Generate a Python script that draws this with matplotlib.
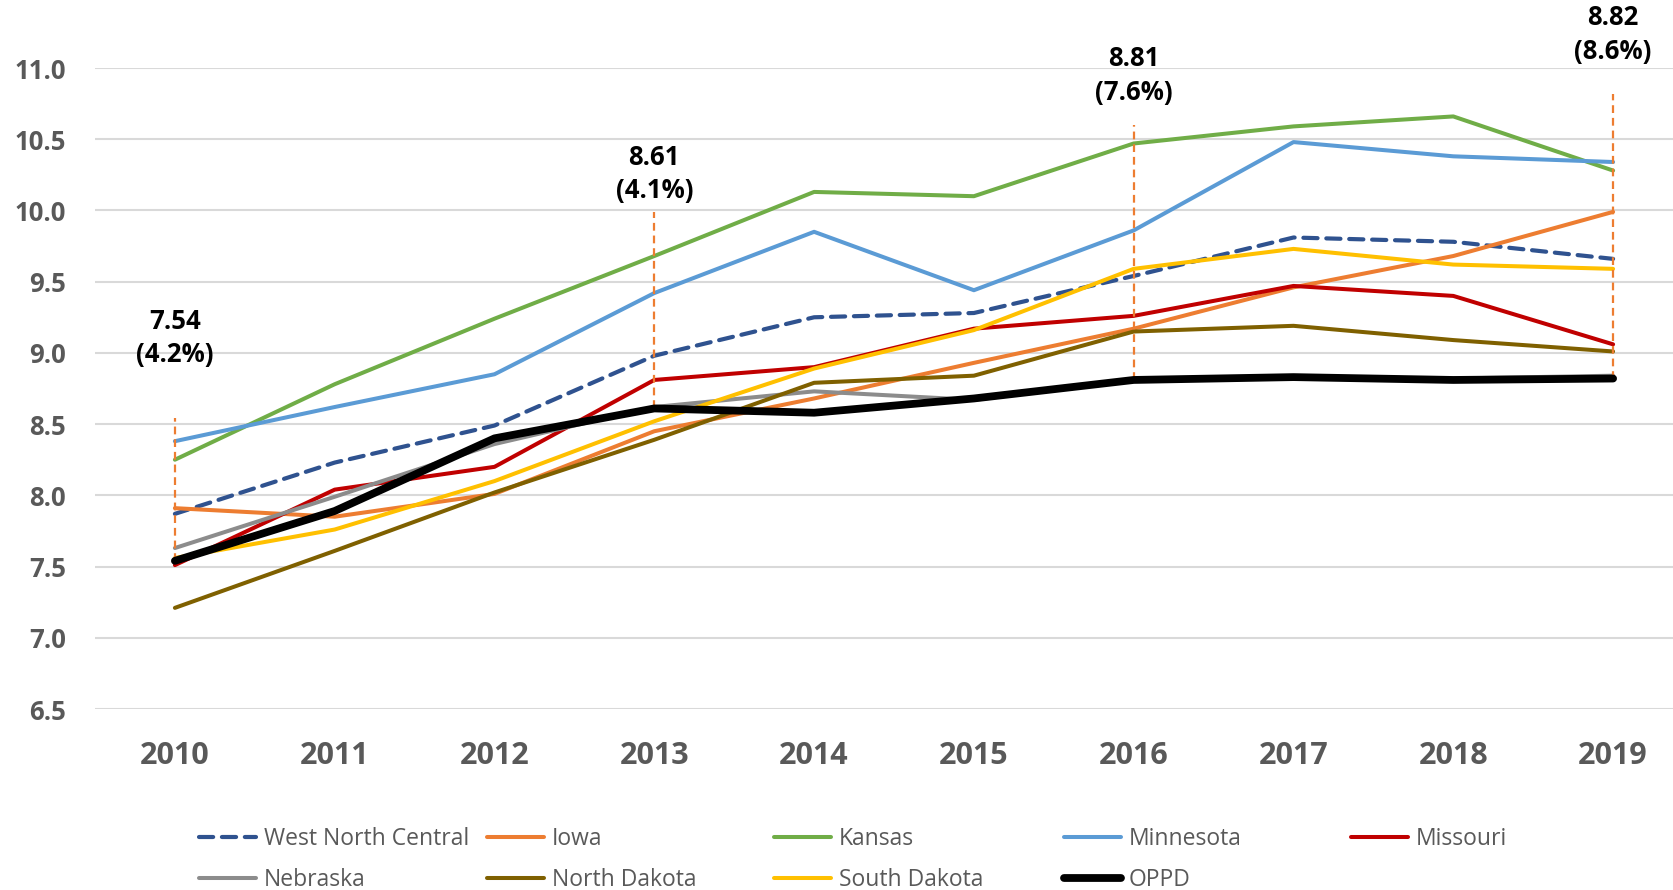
import matplotlib
matplotlib.use("Agg")
import matplotlib.pyplot as plt

plt.rcParams['font.family'] = ['Open Sans', 'DejaVu Sans']

years = [2010, 2011, 2012, 2013, 2014, 2015, 2016, 2017, 2018, 2019]
wnc = [7.87, 8.23, 8.49, 8.98, 9.25, 9.28, 9.54, 9.81, 9.78, 9.66]
iowa = [7.91, 7.85, 8.01, 8.45, 8.68, 8.93, 9.17, 9.46, 9.68, 9.99]
kansas = [8.25, 8.78, 9.24, 9.68, 10.13, 10.10, 10.47, 10.59, 10.66, 10.28]
minnesota = [8.38, 8.62, 8.85, 9.42, 9.85, 9.44, 9.86, 10.48, 10.38, 10.34]
missouri = [7.51, 8.04, 8.20, 8.81, 8.90, 9.17, 9.26, 9.47, 9.40, 9.06]
nebraska = [7.63, 7.99, 8.36, 8.62, 8.73, 8.67, 8.81, 8.83, 8.82, 8.84]
north_dakota = [7.21, 7.61, 8.02, 8.39, 8.79, 8.84, 9.15, 9.19, 9.09, 9.01]
south_dakota = [7.56, 7.76, 8.10, 8.52, 8.89, 9.16, 9.59, 9.73, 9.62, 9.59]
oppd = [7.54, 7.89, 8.40, 8.61, 8.58, 8.68, 8.81, 8.83, 8.81, 8.82]

series_names = ["West North Central", "Iowa", "Kansas", "Minnesota", "Missouri",
                "Nebraska", "North Dakota", "South Dakota", "OPPD"]
series_values = [wnc, iowa, kansas, minnesota, missouri,
                 nebraska, north_dakota, south_dakota, oppd]

ann_years = [2010, 2013, 2016, 2019]
ann_pct = ["4.2%", "4.1%", "7.6%", "8.6%"]
yticks = [6.5, 7.0, 7.5, 8.0, 8.5, 9.0, 9.5, 10.0, 10.5, 11.0]

# styling (kept separate from data)
colors = ["#2F528F", "#ED7D31", "#70AD47", "#5B9BD5", "#C00000",
          "#8C8C8C", "#7F6000", "#FFC000", "#000000"]
widths = [3.0, 2.9, 2.9, 2.9, 2.9, 2.9, 2.9, 2.9, 5.6]
ann_line_top = [8.54, 9.99, 10.60, 10.82]
ann_text_y = [9.105, 10.255, 10.945, 11.235]

W, H = 1674, 890
fig = plt.figure(figsize=(W / 100, H / 100), dpi=100)
ax_left, ax_right, ax_top, ax_bottom = 95, 1693, 68, 709
ax = fig.add_axes([ax_left / W, 1 - ax_bottom / H, (ax_right - ax_left) / W,
                   (ax_bottom - ax_top) / H])

x = list(range(len(years)))
handles = []
for i, (name, vals) in enumerate(zip(series_names, series_values)):
    kw = dict(color=colors[i], lw=widths[i], solid_capstyle='round',
              solid_joinstyle='round', label=name, zorder=3 + (2 if name == "OPPD" else 0))
    if i == 0:
        kw['dashes'] = (3.4, 2.1)
        kw['dash_capstyle'] = 'round'
    ln, = ax.plot(x, vals, **kw)
    handles.append(ln)

# annotation dashed lines and labels
for yr, pct, top, ty in zip(ann_years, ann_pct, ann_line_top, ann_text_y):
    idx = years.index(yr)
    v = oppd[idx]
    ax.plot([idx, idx], [v, top], color="#ED7D31", lw=1.6, dashes=(3.5, 2.2), zorder=4)
    ax.text(idx, ty, f"{v:.2f}\n({pct})", ha='center', va='center',
            fontsize=18.5, fontweight='bold', color='black', linespacing=1.32,
            clip_on=False, zorder=6)

ax.set_xlim(-0.5, len(years) - 0.5)
ax.set_ylim(6.5, 11.0)
ax.set_yticks(yticks)
ax.set_yticklabels([f"{t:.1f}" for t in yticks])
ax.set_xticks(x)
ax.set_xticklabels([str(y) for y in years])
ax.grid(axis='y', color='#D9D9D9', lw=1.5, zorder=0)
ax.set_axisbelow(True)
for s in ax.spines.values():
    s.set_visible(False)
ax.tick_params(axis='y', length=0, pad=21, labelsize=18.5, labelcolor='#595959')
ax.tick_params(axis='x', length=0, pad=23, labelsize=22, labelcolor='#595959')
for lab in ax.get_yticklabels() + ax.get_xticklabels():
    lab.set_fontweight('bold')

# legend: row-major layout in 5 fixed-width columns
col_x = [199, 487, 774, 1064, 1351]
rows = [[0, 5], [1, 6], [2, 7], [3, 8], [4]]
for cx, idxs in zip(col_x, rows):
    fig.legend([handles[j] for j in idxs], [series_names[j] for j in idxs],
               loc='upper left', bbox_to_anchor=(cx / W, 1 - 827 / H),
               frameon=False, fontsize=16.5, handlelength=2.5, handletextpad=0.32,
               borderpad=0, borderaxespad=0, labelspacing=0.75,
               labelcolor='#595959')

fig.savefig("out.png", dpi=100)
